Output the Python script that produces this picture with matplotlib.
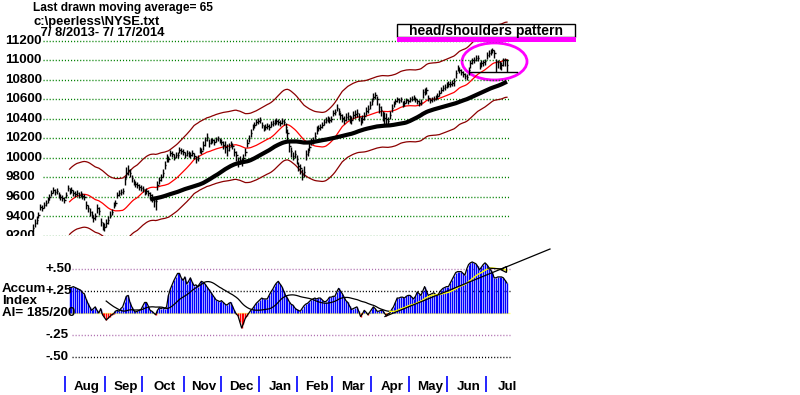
import numpy as np
import pandas as pd
import matplotlib
matplotlib.use('Agg')
import matplotlib.pyplot as plt
from matplotlib.collections import LineCollection
from matplotlib.patches import Ellipse, Rectangle

plt.rcParams['font.family'] = ['Liberation Sans', 'DejaVu Sans']

# ---------------- data ----------------
close = [
    9280, 9330, 9360, 9420, 9500, 9490, 9520, 9540, 9570, 9600,
    9640, 9670, 9650, 9660, 9620, 9600, 9590, 9570, 9620, 9690,
    9660, 9670, 9640, 9630, 9640, 9620, 9630, 9610, 9600, 9520,
    9490, 9450, 9420, 9380, 9400, 9490, 9460, 9340, 9300, 9290,
    9330, 9360, 9420, 9450, 9520, 9540, 9620, 9640, 9650, 9660,
    9780, 9850, 9880, 9850, 9790, 9750, 9730, 9720, 9700, 9690,
    9680, 9650, 9660, 9640, 9620, 9590, 9560, 9560, 9720, 9770,
    9800, 9850, 9930, 10000, 9990, 10050, 10040, 10010, 10030, 10030,
    10080, 10070, 10060, 10030, 10050, 10040, 10030, 10050, 10020, 9990,
    10000, 10080, 10070, 10130, 10180, 10220, 10150, 10170, 10180, 10160,
    10190, 10200, 10180, 10165, 10130, 10110, 10080, 10110, 10140, 10120,
    10060, 10030, 9960, 9980, 9960, 10000, 10060, 10150, 10200, 10260,
    10320, 10340, 10370, 10380, 10390, 10340, 10310, 10320, 10330, 10320,
    10350, 10360, 10370, 10380, 10370, 10360, 10380, 10370, 10320, 10260,
    10120, 10070, 10020, 10040, 9990, 9920, 9900, 9830, 9860, 10040,
    10060, 10110, 10170, 10180, 10230, 10290, 10310, 10320, 10340, 10370,
    10390, 10400, 10390, 10400, 10460, 10470, 10510, 10480, 10440, 10410,
    10390, 10420, 10430, 10400, 10390, 10440, 10450, 10460, 10420, 10380,
    10400, 10430, 10480, 10500, 10540, 10580, 10630, 10650, 10600, 10520,
    10490, 10440, 10410, 10400, 10380, 10440, 10510, 10550, 10580, 10600,
    10590, 10600, 10550, 10560, 10590, 10580, 10600, 10610, 10620, 10600,
    10580, 10560, 10570, 10680, 10690, 10700, 10620, 10590, 10600, 10610,
    10620, 10640, 10670, 10700, 10720, 10730, 10750, 10760, 10760, 10770,
    10790, 10870, 10920, 10900, 10880, 10860, 10840, 10830, 10900, 10970,
    11000, 11010, 11030, 11030, 10950, 10970, 10980, 10990, 11060, 11080,
    11090, 11110, 11080, 10990, 10980, 10960, 10950, 11000, 11000, 10950,
]
hi_off = [
    40, 40, 40, 30, 30, 30, 30, 30, 30, 30, 30, 30, 30, 30, 30, 30, 30, 30, 30, 30,
    30, 30, 30, 30, 30, 30, 30, 30, 30, 40, 30, 40, 40, 40, 40, 40, 40, 40, 40, 40,
    40, 40, 40, 30, 30, 30, 30, 30, 30, 30, 40, 60, 50, 40, 40, 30, 30, 30, 30, 30,
    30, 30, 30, 30, 30, 40, 40, 40, 40, 40, 40, 40, 40, 40, 30, 30, 30, 30, 30, 30,
    30, 30, 30, 30, 30, 30, 30, 30, 30, 30, 30, 30, 30, 40, 40, 40, 40, 30, 30, 30,
    30, 30, 30, 30, 40, 60, 60, 40, 30, 30, 40, 40, 50, 40, 40, 40, 40, 40, 40, 40,
    30, 30, 30, 30, 30, 30, 30, 30, 30, 30, 30, 30, 30, 30, 30, 30, 30, 30, 40, 40,
    60, 40, 40, 40, 40, 40, 40, 60, 60, 40, 40, 40, 40, 40, 40, 40, 30, 30, 30, 30,
    30, 30, 30, 30, 30, 30, 40, 30, 30, 40, 40, 40, 40, 40, 40, 40, 40, 40, 40, 40,
    40, 40, 40, 40, 40, 40, 40, 30, 40, 40, 40, 40, 60, 60, 40, 40, 40, 30, 30, 30,
    30, 30, 30, 30, 30, 30, 30, 30, 30, 30, 30, 30, 30, 30, 30, 30, 30, 30, 30, 30,
    30, 30, 30, 30, 30, 30, 30, 30, 30, 30, 30, 30, 30, 30, 30, 30, 30, 30, 30, 30,
    30, 30, 30, 30, 30, 30, 30, 30, 30, 30, 30, 20, 30, 30, 30, 30, 30, 30, 30, 70,
]
lo_off = [
    40, 40, 40, 40, 30, 30, 30, 30, 30, 30, 30, 30, 30, 30, 30, 30, 30, 30, 30, 30,
    30, 30, 30, 30, 30, 30, 30, 30, 30, 40, 40, 40, 40, 40, 40, 50, 40, 40, 40, 40,
    40, 40, 40, 30, 30, 30, 30, 30, 30, 30, 60, 60, 50, 40, 40, 30, 30, 30, 30, 30,
    30, 30, 30, 30, 40, 40, 60, 90, 50, 40, 40, 40, 40, 40, 30, 30, 30, 30, 30, 30,
    30, 30, 30, 30, 30, 30, 30, 30, 30, 40, 30, 30, 30, 50, 60, 50, 40, 30, 30, 30,
    30, 30, 30, 30, 40, 60, 60, 40, 30, 30, 40, 60, 50, 40, 40, 40, 40, 40, 40, 40,
    30, 30, 30, 30, 30, 30, 30, 30, 30, 30, 30, 30, 30, 30, 30, 30, 30, 30, 60, 80,
    60, 60, 40, 40, 50, 50, 60, 60, 60, 60, 40, 40, 40, 40, 40, 40, 30, 30, 30, 30,
    30, 30, 30, 30, 30, 30, 30, 40, 40, 40, 40, 40, 40, 40, 40, 40, 40, 40, 40, 40,
    40, 40, 40, 40, 40, 40, 40, 40, 60, 60, 60, 60, 60, 60, 50, 40, 40, 30, 30, 30,
    30, 30, 30, 30, 30, 30, 30, 30, 30, 30, 30, 30, 30, 60, 40, 40, 40, 30, 30, 30,
    30, 30, 30, 30, 30, 30, 30, 30, 30, 30, 50, 50, 30, 30, 30, 30, 30, 30, 50, 50,
    40, 40, 40, 40, 40, 40, 40, 40, 40, 40, 30, 30, 50, 110, 60, 50, 50, 60, 60, 70,
]
ai_first = 20
accum = [
    0.29, 0.29, 0.30, 0.29, 0.28, 0.27, 0.26, 0.23, 0.22, 0.16,
    0.11, 0.07, 0.03, 0.05, 0.07, 0.03, 0.00, 0.05, -0.02, -0.05,
    -0.08, -0.06, -0.04, -0.02, -0.01, 0.02, 0.03, 0.02, 0.05, 0.07,
    0.13, 0.19, 0.20, 0.12, 0.07, 0.03, 0.01, 0.02, 0.03, 0.04,
    0.08, 0.12, 0.12, 0.08, 0.03, 0.02, 0.00, -0.02, 0.03, 0.06,
    0.05, 0.06, 0.05, 0.07, 0.20, 0.27, 0.32, 0.37, 0.41, 0.45,
    0.45, 0.40, 0.37, 0.41, 0.33, 0.36, 0.40, 0.35, 0.31, 0.32,
    0.30, 0.33, 0.36, 0.35, 0.33, 0.30, 0.27, 0.24, 0.21, 0.18,
    0.15, 0.14, 0.13, 0.14, 0.12, 0.10, 0.09, 0.11, 0.12, 0.08,
    0.03, -0.01, -0.03, -0.10, -0.17, -0.12, -0.06, -0.03, 0.00, 0.03,
    0.05, 0.08, 0.11, 0.13, 0.15, 0.17, 0.16, 0.16, 0.16, 0.20,
    0.24, 0.27, 0.31, 0.34, 0.36, 0.33, 0.30, 0.25, 0.20, 0.17,
    0.13, 0.10, 0.09, 0.06, 0.04, 0.03, 0.02, 0.05, 0.08, 0.10,
    0.11, 0.13, 0.15, 0.16, 0.17, 0.16, 0.17, 0.17, 0.15, 0.13,
    0.13, 0.15, 0.18, 0.18, 0.19, 0.19, 0.24, 0.28, 0.25, 0.22,
    0.18, 0.14, 0.12, 0.08, 0.04, 0.05, 0.06, 0.07, 0.02, -0.04,
    -0.01, 0.03, 0.01, -0.02, 0.01, 0.04, 0.07, 0.05, 0.02, 0.02,
    0.03, 0.03, 0.00, -0.03, -0.01, 0.00, 0.04, 0.07, 0.12, 0.17,
    0.17, 0.18, 0.18, 0.17, 0.19, 0.20, 0.20, 0.18, 0.16, 0.19,
    0.24, 0.22, 0.20, 0.25, 0.30, 0.25, 0.20, 0.21, 0.22, 0.23,
    0.21, 0.20, 0.23, 0.26, 0.28, 0.29, 0.30, 0.30, 0.34, 0.38,
    0.42, 0.46, 0.47, 0.47, 0.47, 0.45, 0.43, 0.50, 0.55, 0.57,
    0.58, 0.57, 0.56, 0.53, 0.49, 0.52, 0.55, 0.57, 0.55, 0.52,
    0.49, 0.46, 0.40, 0.40, 0.41, 0.41, 0.41, 0.40, 0.37, 0.34,
]
price_ticks = [9200, 9400, 9600, 9800, 10000, 10200, 10400, 10600, 10800, 11000, 11200]
ai_ticks = [0.50, 0.25, -0.25, -0.50]
ai_tick_labels = ['+.50', '+.25', '-.25', '-.50']
ai_grid_colors = ['#b070b0', '#000000', '#b070b0', '#000000']
months = ['Aug', 'Sep', 'Oct', 'Nov', 'Dec', 'Jan', 'Feb', 'Mar', 'Apr', 'May', 'Jun', 'Jul']
month_start = [18, 40, 60, 83, 103, 124, 145, 164, 185, 206, 227, 248]
ma_short, ma_long, band_pct = 21, 65, 0.035
ai_ma_len = 21
# annotation geometry (index, value)
trend_ai = ([192.3, 282.5], [-0.04, 0.727])
neck = ([238.8, 264.5], [10882, 10882])
hs_center, hs_w, hs_h = (252.2, 10990), 35.5, 380

# ---------------- layout helpers (pixel mapping) ----------------
W, H = 800, 395
X0, DX = 33.0, 1.83
PPU = 200 / 19.5          # price units per pixel
def px2i(x):
    return (x - X0) / DX

n = len(close)
idx = np.arange(n)
cl = np.array(close, float)
hi = cl + np.array(hi_off)
lo = cl - np.array(lo_off)
s = pd.Series(cl)
ma21 = s.rolling(ma_short).mean().values
ma65 = s.rolling(ma_long).mean().values
up_band = ma21 * (1 + band_pct)
dn_band = ma21 * (1 - band_pct)

fig = plt.figure(figsize=(W / 100, H / 100), dpi=100)
fig.patch.set_facecolor('white')

# ---------------- price panel ----------------
pb = 236
ax = fig.add_axes([0, 1 - pb / H, 1, pb / H])
ax.set_xlim(px2i(0), px2i(W))
ax.set_ylim(9200, 9200 + pb * PPU)
ax.axis('off')

ax.hlines(price_ticks, px2i(43), px2i(510), colors='#008000',
          linestyles=(0, (0.8, 1.4)), lw=1)
for v in price_ticks:
    ax.text(px2i(5), v, str(v), ha='left', va='center', fontsize=9.6,
            fontweight='bold', clip_on=True)

ax.plot(idx, up_band, color='#8b0000', lw=0.9)
ax.plot(idx, dn_band, color='#8b0000', lw=0.9)
ax.plot(idx, ma21, color='#ff0000', lw=0.9)
ax.plot(idx, ma65, color='black', lw=3.0, solid_capstyle='butt')

segs = [[(i, lo[i]), (i, hi[i])] for i in range(n)]
ticks = [[(i, cl[i]), (i + 0.8, cl[i])] for i in range(n)]
ax.add_collection(LineCollection(segs, colors='black', lw=1.0))
ax.add_collection(LineCollection(ticks, colors='black', lw=1.0))

ax.plot(*neck, color='black', lw=1.0)
ax.add_patch(Ellipse(hs_center, hs_w, hs_h, fill=False, ec='#ff00ff', lw=2))

# ---------------- accumulation panel ----------------
at = 237
ax2 = fig.add_axes([0, 0, 1, (H - at) / H])
ax2.set_xlim(px2i(0), px2i(W))
ax2.set_ylim((313 - H) / 88, (313 - at) / 88)
ax2.axis('off')

for v, c in zip(ai_ticks, ai_grid_colors):
    ax2.hlines(v, px2i(72), px2i(510), colors=c, linestyles=(0, (0.8, 1.4)), lw=1)
for v, lab in zip(ai_ticks, ai_tick_labels):
    ax2.text(px2i(45), v, lab, ha='left', va='center', fontsize=9.6, fontweight='bold')
ax2.hlines(0, px2i(70), px2i(510), colors='#ffff80', lw=1)

ai = np.array(accum)
ai_idx = np.arange(ai_first, ai_first + len(ai))
bar_cols = ['#0000ff' if v >= 0 else '#ff0000' for v in ai]
ax2.vlines(ai_idx, 0, ai, colors=bar_cols, lw=1.0)
ax2.plot(ai_idx, ai, color='black', lw=0.9)
ai_ma = pd.Series(ai).rolling(ai_ma_len).mean().values
split = 195 - ai_first
ax2.plot(ai_idx[:split + 1], ai_ma[:split + 1], color='black', lw=0.9)
ax2.plot(ai_idx[split:], ai_ma[split:], color='#ffff00', lw=1.0)
ax2.plot(*trend_ai, color='black', lw=0.9)
ax2.plot([248.6, 256.8], [0.51, 0.50], color='black', lw=0.9)
ax2.plot([256.8], [0.50], marker='<', ms=5, mfc='none', mec='black', mew=0.9)

# month ticks and labels
tick_x = [m - 0.5 for m in month_start]
ax2.vlines(tick_x, (313 - 392) / 88, (313 - 376) / 88, colors='#0000ff', lw=1.2)
ends = tick_x[1:] + [tick_x[-1] + 21]
for m, a, b in zip(months, tick_x, ends):
    ax2.text((a + b) / 2 + 1, (313 - 387) / 88, m, ha='center', va='center',
             fontsize=9.6, fontweight='bold')

# ---------------- texts ----------------
def ftext(x, y, s, **kw):
    fig.text(x / W, 1 - y / H, s, **kw)

ftext(33, 8, 'Last drawn moving average= 65', fontsize=8.6, fontweight='bold', va='center')
ftext(33, 22, 'c:\\peerless\\NYSE.txt', fontsize=9.4, fontweight='bold', va='center')
ftext(37, 33, ' 7/ 8/2013- 7/ 17/2014', fontsize=9.4, fontweight='bold', va='center')
ftext(2, 289, 'Accum', fontsize=9.6, fontweight='bold', va='center')
ftext(2, 301, 'Index', fontsize=9.6, fontweight='bold', va='center')
ftext(2, 313, 'AI= 185/200', fontsize=9.6, fontweight='bold', va='center')

fig.add_artist(Rectangle((397 / W, 1 - 37 / H), 178 / W, 13 / H, transform=fig.transFigure,
                         fill=True, fc='white', ec='black', lw=1))
fig.add_artist(Rectangle((397 / W, 1 - 42 / H), 179 / W, 5 / H, transform=fig.transFigure,
                         fill=True, fc='#ff00ff', ec='none'))
ftext(486, 31, 'head/shoulders pattern', fontsize=10, fontweight='bold',
      ha='center', va='center')

fig.savefig('out.png', dpi=100, facecolor='white')
